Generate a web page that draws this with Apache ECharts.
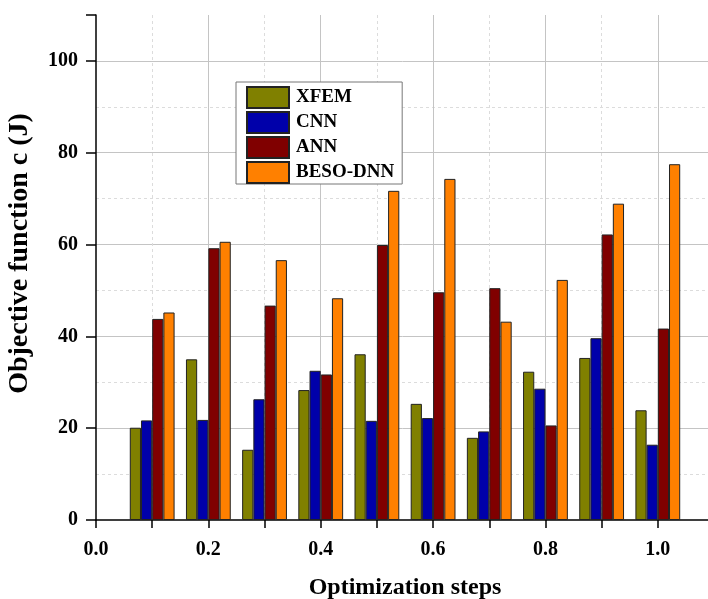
<!DOCTYPE html>
<html>
<head>
<meta charset="utf-8">
<script src="https://cdn.jsdelivr.net/npm/echarts@6/dist/echarts.min.js"></script>
<style>html,body{margin:0;padding:0;background:#fff;}#c{width:708px;height:599px;}</style>
</head>
<body>
<div id="c"></div>
<script>
const steps = [0.1, 0.2, 0.3, 0.4, 0.5, 0.6, 0.7, 0.8, 0.9, 1.0];
const seriesNames = ['XFEM', 'CNN', 'ANN', 'BESO-DNN'];
const xfem = [20.1, 35.0, 15.3, 28.3, 36.1, 25.3, 17.9, 32.3, 35.3, 23.9];
const cnn  = [21.7, 21.8, 26.3, 32.5, 21.6, 22.2, 19.3, 28.6, 39.6, 16.4];
const ann  = [43.8, 59.2, 46.7, 31.7, 59.9, 49.6, 50.5, 20.6, 62.2, 41.7];
const beso = [45.2, 60.6, 56.6, 48.3, 71.7, 74.3, 43.2, 52.3, 68.9, 77.5];
const colors = ['#808000', '#0000aa', '#800000', '#ff8000'];
const values = [xfem, cnn, ann, beso];

const font = 'Liberation Serif';
const chart = echarts.init(document.getElementById('c'));
chart.setOption({
  backgroundColor: '#fff',
  animation: false,
  grid: { left: 96, right: -6, top: 15, bottom: 79, containLabel: false, outerBoundsMode: 'none' },
  legend: {
    orient: 'vertical',
    left: 236, top: 82,
    icon: 'rect',
    itemWidth: 42, itemHeight: 21, itemGap: 2,
    padding: [4, 8, 0, 10],
    borderColor: '#777', borderWidth: 1,
    borderRadius: 0,
    backgroundColor: '#fff',
    z: 10,
    textStyle: { fontFamily: font, fontWeight: 'bold', fontSize: 19, color: '#000', padding: [0, 0, 0, 2] },
    data: seriesNames
  },
  xAxis: {
    type: 'value', min: 0, max: 1.1, interval: 0.2,
    name: 'Optimization steps', nameLocation: 'middle', nameGap: 56,
    nameTextStyle: { fontFamily: font, fontWeight: 'bold', fontSize: 24, color: '#000' },
    axisLine: { show: true, lineStyle: { color: '#000', width: 1.5 } },
    axisTick: { show: true, length: 8, lineStyle: { color: '#000', width: 1.5 } },
    minorTick: { show: true, splitNumber: 2, length: 8, lineStyle: { color: '#000', width: 1.5 } },
    axisLabel: { margin: 20, fontFamily: font, fontWeight: 'bold', fontSize: 20, color: '#000',
      formatter: v => (v > 1.05 ? '' : v.toFixed(1)) },
    splitLine: { show: true, showMinLine: false, lineStyle: { color: '#c4c4c4', width: 1 } },
    minorSplitLine: { show: true, lineStyle: { color: '#dcdcdc', type: [3, 3], width: 1 } }
  },
  yAxis: {
    type: 'value', min: 0, max: 110, interval: 20,
    name: 'Objective function c (J)', nameLocation: 'middle', nameGap: 62,
    nameTextStyle: { fontFamily: font, fontWeight: 'bold', fontSize: 28, color: '#000', padding: [0, 0, 0, 28] },
    axisLine: { show: true, lineStyle: { color: '#000', width: 1.5 } },
    axisTick: { show: true, length: 10, lineStyle: { color: '#000', width: 1.5 } },
    minorTick: { show: false, splitNumber: 2 },
    axisLabel: { margin: 18, fontFamily: font, fontWeight: 'bold', fontSize: 20, color: '#000',
      formatter: v => (v === 110 ? '' : String(v)) },
    splitLine: { show: true, showMinLine: false, showMaxLine: false, lineStyle: { color: '#c4c4c4', width: 1 } },
    minorSplitLine: { show: true, lineStyle: { color: '#dcdcdc', type: [3, 3], width: 1 } }
  },
  series: seriesNames.map((name, i) => ({
    name: name,
    type: 'bar',
    barWidth: 11.2,
    barGap: '0%',
    itemStyle: { color: colors[i], borderColor: '#222', borderWidth: 1 },
    data: steps.map((s, j) => [s, values[i][j]])
  }))
});
</script>
</body>
</html>
